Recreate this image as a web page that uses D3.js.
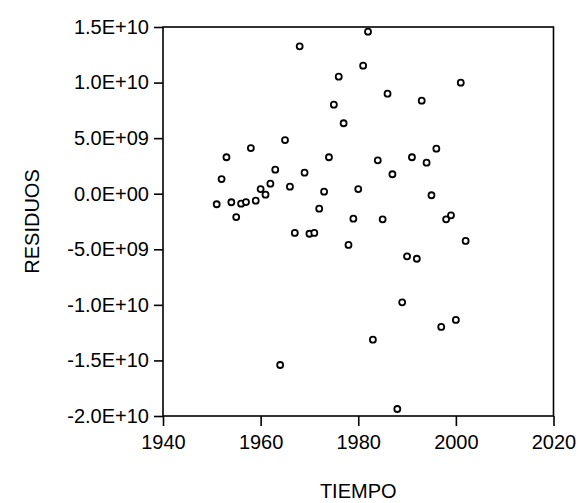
<!DOCTYPE html>
<html>
<head>
<meta charset="utf-8">
<script src="https://cdn.jsdelivr.net/npm/d3@7/dist/d3.min.js"></script>
<style>
  html, body { margin: 0; padding: 0; background: #fff; }
  svg { display: block; }
  text { font-family: "Liberation Sans", Arial, sans-serif; fill: #000; }
</style>
</head>
<body>
<svg id="chart" width="579" height="503"></svg>
<script>
// ---- data (years and residuals, in units of 1e9) ----
const years = [1951,1952,1953,1954,1955,1956,1957,1958,1959,1960,
               1961,1962,1963,1964,1965,1966,1967,1968,1969,1970,
               1971,1972,1973,1974,1975,1976,1977,1978,1979,1980,
               1981,1982,1983,1984,1985,1986,1987,1988,1989,1990,
               1991,1992,1993,1994,1995,1996,1997,1998,1999,2000,
               2001,2002];
const residualsE9 = [-0.95,1.32,3.28,-0.77,-2.1,-0.9,-0.75,4.11,-0.63,0.42,
                     -0.09,0.9,2.16,-15.41,4.83,0.63,-3.53,13.26,1.89,-3.6,
                     -3.53,-1.35,0.18,3.28,8.01,10.53,6.34,-4.61,-2.25,0.42,
                     11.52,14.58,-13.13,3.0,-2.3,9.0,1.75,-19.37,-9.77,-5.63,
                     3.28,-5.85,8.37,2.79,-0.14,4.05,-11.99,-2.3,-1.94,-11.36,
                     9.99,-4.25];
const xTickValues = [1940,1960,1980,2000,2020];
const xTickLabels = ["1940","1960","1980","2000","2020"];
const yTickValues = [15e9,10e9,5e9,0,-5e9,-10e9,-15e9,-20e9];
const yTickLabels = ["1.5E+10","1.0E+10","5.0E+09","0.0E+00","-5.0E+09","-1.0E+10","-1.5E+10","-2.0E+10"];
const xTitle = "TIEMPO";
const yTitle = "RESIDUOS";

// ---- layout ----
const pLeft = 163, pRight = 553.5, pTop = 27, pBottom = 416;
const svg = d3.select("#chart");

const x = d3.scaleLinear().domain([1940, 2020]).range([pLeft, pRight]);
const y = d3.scaleLinear().domain([-20e9, 15e9]).range([pBottom, pTop]);

const points = years.map((yr, i) => ({ year: yr, value: residualsE9[i] * 1e9 }));

// frame
svg.append("rect")
  .attr("x", pLeft).attr("y", pTop)
  .attr("width", pRight - pLeft).attr("height", pBottom - pTop)
  .attr("fill", "none").attr("stroke", "#000").attr("stroke-width", 1.6);

// axes
const yAxis = d3.axisLeft(y)
  .tickValues(yTickValues)
  .tickFormat((d, i) => yTickLabels[i])
  .tickSize(9).tickPadding(5);
const gy = svg.append("g").attr("transform", `translate(${pLeft},0)`).call(yAxis);

const xAxis = d3.axisBottom(x)
  .tickValues(xTickValues)
  .tickFormat((d, i) => xTickLabels[i])
  .tickSize(10).tickPadding(9);
const gx = svg.append("g").attr("transform", `translate(0,${pBottom})`).call(xAxis);

[gx, gy].forEach(g => {
  g.select(".domain").remove();
  g.selectAll(".tick line").attr("stroke", "#000").attr("stroke-width", 1.6);
  g.selectAll(".tick text")
    .attr("font-family", "'Liberation Sans', Arial, sans-serif")
    .attr("font-size", 20).attr("fill", "#000");
});

// points
svg.append("g").selectAll("circle")
  .data(points).join("circle")
  .attr("cx", d => x(d.year))
  .attr("cy", d => y(d.value))
  .attr("r", 3)
  .attr("fill", "#fff").attr("stroke", "#000").attr("stroke-width", 1.8);

// titles
svg.append("text")
  .attr("x", (pLeft + pRight) / 2).attr("y", 498)
  .attr("text-anchor", "middle")
  .attr("font-size", 20)
  .text(xTitle);

svg.append("text")
  .attr("transform", `translate(39,${(pTop + pBottom) / 2}) rotate(-90)`)
  .attr("text-anchor", "middle")
  .attr("font-size", 20)
  .text(yTitle);
</script>
</body>
</html>
